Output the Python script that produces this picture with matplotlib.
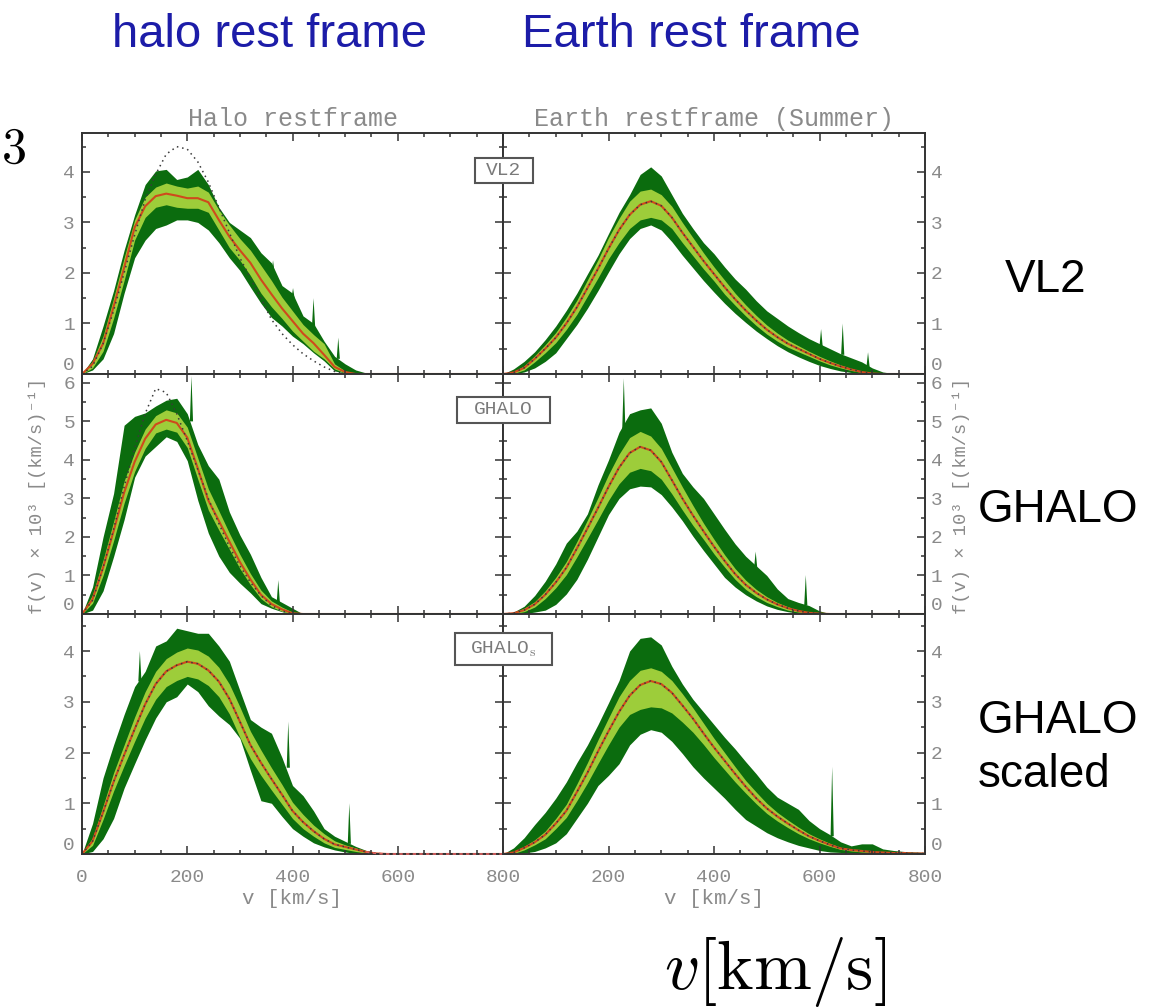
import numpy as np
import matplotlib
matplotlib.use("Agg")
import matplotlib.pyplot as plt
from matplotlib.ticker import MultipleLocator, FuncFormatter
from matplotlib.patches import Rectangle

# --- velocity grid [km/s] ---
vel = [0, 20, 40, 60, 80, 100, 120, 140, 160, 180,
       200, 220, 240, 260, 280, 300, 320, 340, 360, 380,
       400, 420, 440, 460, 480, 500, 520, 540, 560, 580,
       600, 620, 640, 660, 680, 700, 720, 740, 760, 780, 800]

# --- VL2, halo restframe ---
tl_med = [0, .2, .6, 1.33, 2.1, 2.9, 3.32, 3.52, 3.57, 3.53,
          3.48, 3.48, 3.4, 3.05, 2.72, 2.45, 2.2, 1.87, 1.58, 1.3,
          1.05, .8, .61, .38, .14, .04, 0, 0, 0, 0,
          0, 0, 0, 0, 0, 0, 0, 0, 0, 0, 0]
tl_lhi = [0, .25, .75, 1.5, 2.3, 3.05, 3.5, 3.7, 3.78, 3.72,
          3.68, 3.72, 3.6, 3.25, 2.95, 2.68, 2.45, 2.15, 1.85, 1.52,
          1.25, .98, .78, .6, .2, .06, 0, 0, 0, 0,
          0, 0, 0, 0, 0, 0, 0, 0, 0, 0, 0]
tl_llo = [0, .12, .45, 1.1, 1.85, 2.65, 3.1, 3.3, 3.35, 3.3,
          3.28, 3.28, 3.2, 2.85, 2.5, 2.25, 1.95, 1.6, 1.33, 1.1,
          .85, .65, .45, .3, .1, .02, 0, 0, 0, 0,
          0, 0, 0, 0, 0, 0, 0, 0, 0, 0, 0]
tl_dhi = [0, .3, .95, 1.65, 2.45, 3.15, 3.75, 4.02, 4.05, 3.85,
          3.9, 4.05, 3.75, 3.3, 3.0, 2.85, 2.7, 2.4, 2.2, 1.75,
          1.6, 1.15, 1.0, .65, .35, .2, .08, .02, 0, 0,
          0, 0, 0, 0, 0, 0, 0, 0, 0, 0, 0]
tl_dlo = [0, .08, .3, .8, 1.6, 2.3, 2.65, 2.88, 2.95, 3.05,
          3.05, 3.0, 2.85, 2.6, 2.3, 2.05, 1.72, 1.4, 1.12, .95,
          .75, .6, .42, .26, .06, .02, 0, 0, 0, 0,
          0, 0, 0, 0, 0, 0, 0, 0, 0, 0, 0]
tl_fit = [0, .15, .6, 1.25, 2.0, 2.75, 3.45, 3.95, 4.35, 4.5,
          4.45, 4.2, 3.8, 3.3, 2.8, 2.3, 1.9, 1.5, 1.08, .8,
          .58, .4, .26, .14, .05, 0, 0, 0, 0, 0,
          0, 0, 0, 0, 0, 0, 0, 0, 0, 0, 0]
tl_spikes = [(363, 2.0, 2.25), (401, 1.5, 1.7), (440, .95, 1.5), (487, .3, .72)]

# --- VL2, Earth restframe ---
tr_med = [0, .03, .12, .30, .50, .72, 1.0, 1.32, 1.70, 2.08,
          2.48, 2.85, 3.15, 3.35, 3.42, 3.33, 3.10, 2.80, 2.52, 2.24,
          1.98, 1.72, 1.48, 1.26, 1.06, .88, .73, .60, .50, .40,
          .30, .22, .15, .09, .04, .01, 0, 0, 0, 0, 0]
tr_lhi = [0, .05, .16, .36, .58, .82, 1.12, 1.46, 1.86, 2.26,
          2.70, 3.08, 3.42, 3.62, 3.66, 3.55, 3.32, 3.00, 2.70, 2.40,
          2.12, 1.86, 1.60, 1.37, 1.16, .97, .81, .67, .56, .45,
          .35, .26, .18, .11, .05, .02, 0, 0, 0, 0, 0]
tr_llo = [0, .01, .08, .24, .42, .62, .88, 1.18, 1.54, 1.90,
          2.28, 2.60, 2.88, 3.05, 3.10, 3.05, 2.88, 2.60, 2.34, 2.08,
          1.84, 1.58, 1.36, 1.15, .96, .79, .65, .53, .44, .35,
          .26, .18, .12, .07, .03, 0, 0, 0, 0, 0, 0]
tr_dhi = [0, .1, .25, .44, .68, .95, 1.26, 1.6, 1.98, 2.35,
          2.78, 3.2, 3.55, 3.95, 4.1, 3.92, 3.55, 3.18, 2.88, 2.6,
          2.38, 2.12, 1.88, 1.68, 1.45, 1.25, 1.1, .95, .82, .7,
          .6, .5, .4, .32, .24, .12, .04, .01, 0, 0, 0]
tr_dlo = [0, 0, .04, .12, .25, .42, .7, .98, 1.3, 1.65,
          2.02, 2.38, 2.68, 2.88, 2.95, 2.85, 2.62, 2.35, 2.1, 1.85,
          1.62, 1.4, 1.2, 1.02, .85, .7, .56, .44, .34, .25,
          .17, .11, .06, .03, .01, 0, 0, 0, 0, 0, 0]
tr_spikes = [(603, .55, .89), (644, .38, 1.0), (692, .14, .43)]

# --- GHALO, halo restframe ---
ml_med = [0, .38, 1.2, 2.15, 3.15, 3.95, 4.55, 4.92, 5.04, 4.96,
          4.58, 3.78, 2.95, 2.42, 1.88, 1.35, .9, .5, .26, .12,
          .02, 0, 0, 0, 0, 0, 0, 0, 0, 0,
          0, 0, 0, 0, 0, 0, 0, 0, 0, 0, 0]
ml_lhi = [0, .5, 1.4, 2.4, 3.45, 4.2, 4.8, 5.15, 5.3, 5.22,
          4.85, 4.05, 3.25, 2.68, 2.1, 1.55, 1.05, .62, .34, .18,
          .05, 0, 0, 0, 0, 0, 0, 0, 0, 0,
          0, 0, 0, 0, 0, 0, 0, 0, 0, 0, 0]
ml_llo = [0, .28, 1.0, 1.9, 2.88, 3.7, 4.3, 4.7, 4.8, 4.72,
          4.32, 3.5, 2.7, 2.18, 1.68, 1.18, .76, .4, .19, .07,
          0, 0, 0, 0, 0, 0, 0, 0, 0, 0,
          0, 0, 0, 0, 0, 0, 0, 0, 0, 0, 0]
ml_dhi = [0, .7, 2.0, 3.13, 4.9, 5.13, 5.22, 5.4, 5.55, 5.6,
          5.2, 4.4, 3.85, 3.5, 2.65, 2.05, 1.55, .95, .45, .3,
          .15, 0, 0, 0, 0, 0, 0, 0, 0, 0,
          0, 0, 0, 0, 0, 0, 0, 0, 0, 0, 0]
ml_dlo = [0, .1, .6, 1.49, 2.45, 3.55, 4.1, 4.35, 4.6, 4.48,
          3.98, 2.95, 2.1, 1.5, 1.08, .8, .55, .27, .15, .06,
          0, 0, 0, 0, 0, 0, 0, 0, 0, 0,
          0, 0, 0, 0, 0, 0, 0, 0, 0, 0, 0]
ml_fit = [0, .35, 1.2, 2.2, 3.3, 4.3, 5.2, 5.85, 5.75, 5.2,
          4.5, 3.75, 3.0, 2.35, 1.75, 1.25, .82, .48, .22, .08,
          0, 0, 0, 0, 0, 0, 0, 0, 0, 0,
          0, 0, 0, 0, 0, 0, 0, 0, 0, 0, 0]
ml_spikes = [(208, 5.0, 6.18), (373, .3, .88)]

# --- GHALO, Earth restframe ---
mr_med = [0, .02, .1, .25, .5, .82, 1.2, 1.7, 2.22, 2.75,
          3.3, 3.8, 4.18, 4.34, 4.25, 3.95, 3.48, 3.0, 2.56, 2.15,
          1.75, 1.38, 1.04, .76, .55, .38, .25, .15, .08, .03,
          .01, 0, 0, 0, 0, 0, 0, 0, 0, 0, 0]
mr_lhi = [0, .04, .15, .32, .6, .95, 1.36, 1.88, 2.44, 3.02,
          3.62, 4.15, 4.58, 4.74, 4.62, 4.3, 3.8, 3.3, 2.82, 2.36,
          1.94, 1.54, 1.18, .88, .64, .45, .3, .19, .1, .05,
          .02, 0, 0, 0, 0, 0, 0, 0, 0, 0, 0]
mr_llo = [0, .01, .06, .18, .4, .68, 1.02, 1.48, 1.96, 2.45,
          2.95, 3.38, 3.68, 3.78, 3.72, 3.5, 3.12, 2.7, 2.3, 1.94,
          1.56, 1.22, .9, .64, .45, .3, .19, .1, .05, .01,
          0, 0, 0, 0, 0, 0, 0, 0, 0, 0, 0]
mr_dhi = [0, .05, .2, .48, .85, 1.3, 1.84, 2.15, 2.6, 3.35,
          4.0, 4.72, 5.2, 5.3, 5.35, 4.95, 4.2, 3.65, 3.3, 3.0,
          2.6, 2.2, 1.82, 1.5, 1.25, 1.0, .65, .4, .3, .22,
          .08, .01, 0, 0, 0, 0, 0, 0, 0, 0, 0]
mr_dlo = [0, 0, .01, .05, .1, .25, .52, .9, 1.42, 2.0,
          2.58, 3.0, 3.25, 3.32, 3.3, 3.1, 2.78, 2.42, 2.02, 1.65,
          1.3, .95, .7, .5, .34, .21, .12, .06, .02, 0,
          0, 0, 0, 0, 0, 0, 0, 0, 0, 0, 0]
mr_spikes = [(229, 4.8, 6.12), (479, 1.2, 1.62), (574, .22, 1.01)]

# --- GHALO_s, halo restframe ---
bl_med = [0, .25, .82, 1.42, 1.95, 2.46, 2.95, 3.35, 3.6, 3.72,
          3.79, 3.75, 3.62, 3.4, 3.06, 2.61, 2.15, 1.8, 1.48, 1.17,
          .85, .63, .45, .3, .19, .14, .09, .04, .01, 0,
          0, 0, 0, 0, 0, 0, 0, 0, 0, 0, 0]
bl_lhi = [0, .32, .95, 1.6, 2.15, 2.7, 3.2, 3.6, 3.85, 3.98,
          4.06, 4.02, 3.9, 3.68, 3.35, 2.9, 2.42, 2.05, 1.7, 1.37,
          1.02, .78, .57, .4, .26, .18, .12, .06, .02, 0,
          0, 0, 0, 0, 0, 0, 0, 0, 0, 0, 0]
bl_llo = [0, .17, .68, 1.24, 1.74, 2.22, 2.68, 3.05, 3.3, 3.42,
          3.5, 3.45, 3.32, 3.1, 2.76, 2.3, 1.88, 1.55, 1.26, .98,
          .7, .5, .35, .22, .13, .09, .05, .02, 0, 0,
          0, 0, 0, 0, 0, 0, 0, 0, 0, 0, 0]
bl_dhi = [0, .6, 1.5, 2.15, 2.75, 3.3, 3.6, 4.1, 4.2, 4.45,
          4.4, 4.35, 4.35, 4.1, 3.8, 3.22, 2.65, 2.5, 2.38, 1.9,
          1.35, 1.15, .85, .5, .35, .25, .15, .07, .02, 0,
          0, 0, 0, 0, 0, 0, 0, 0, 0, 0, 0]
bl_dlo = [0, .05, .3, .7, 1.3, 1.78, 2.25, 2.68, 3.0, 3.1,
          3.35, 3.2, 2.92, 2.72, 2.55, 2.28, 1.65, 1.05, 1.0, .74,
          .5, .35, .22, .14, .08, .04, .01, 0, 0, 0,
          0, 0, 0, 0, 0, 0, 0, 0, 0, 0, 0]
bl_spikes = [(110, 3.4, 4.0), (392, 1.7, 2.61), (508, .2, 1.0)]

# --- GHALO_s, Earth restframe ---
br_med = [0, .03, .12, .23, .38, .6, .85, 1.22, 1.6, 2.02,
          2.42, 2.8, 3.12, 3.33, 3.41, 3.35, 3.18, 2.93, 2.67, 2.38,
          2.1, 1.84, 1.58, 1.33, 1.1, .9, .74, .6, .47, .35,
          .26, .18, .11, .08, .06, .04, .03, .02, .02, .01, .01]
br_lhi = [0, .05, .15, .28, .45, .7, .98, 1.38, 1.8, 2.25,
          2.68, 3.1, 3.42, 3.62, 3.67, 3.6, 3.42, 3.16, 2.88, 2.58,
          2.28, 2.0, 1.72, 1.45, 1.22, 1.0, .82, .67, .53, .4,
          .3, .21, .13, .1, .07, .05, .04, .03, .02, .02, .01]
br_llo = [0, .01, .08, .18, .3, .5, .72, 1.05, 1.4, 1.78,
          2.15, 2.5, 2.75, 2.85, 2.9, 2.88, 2.78, 2.6, 2.4, 2.16,
          1.9, 1.66, 1.42, 1.2, .99, .8, .65, .52, .4, .3,
          .22, .15, .09, .06, .04, .03, .02, .01, .01, 0, 0]
br_dhi = [0, .12, .32, .58, .82, 1.1, 1.42, 1.8, 2.15, 2.55,
          2.98, 3.42, 4.0, 4.25, 4.28, 4.12, 3.7, 3.35, 3.05, 2.8,
          2.55, 2.3, 2.07, 1.82, 1.58, 1.32, 1.12, 1.0, .88, .66,
          .5, .38, .24, .16, .2, .2, .1, .07, .05, .04, .03]
br_dlo = [0, 0, .02, .05, .12, .22, .4, .7, 1.0, 1.35,
          1.55, 1.78, 2.15, 2.36, 2.45, 2.4, 2.22, 1.98, 1.72, 1.5,
          1.3, 1.1, .88, .68, .55, .42, .32, .24, .17, .12,
          .07, .04, .03, .02, .01, .01, 0, 0, 0, 0, 0]
br_spikes = [(624, .35, 1.72)]

ytops = [4.77, 6.23, 4.73]
yticks = [[0, 1, 2, 3, 4], [0, 1, 2, 3, 4, 5, 6], [0, 1, 2, 3, 4]]
xticks = [0, 200, 400, 600, 800]
col_titles = ["Halo restframe", "Earth restframe (Summer)"]
box_labels = ["VL2", "GHALO", "GHALO$_\\mathrm{s}$"]
side_labels = ["VL2", "GHALO", "GHALO\nscaled"]

DARK = "#0b6c0e"
LIGHT = "#9dcd3a"
RED = "#cf4a1c"
FRAME = "#333333"
GREY = "#8a8a8a"
BLUE = "#1c1ca8"

plt.rcParams["font.family"] = ["Liberation Mono", "DejaVu Sans Mono"]
plt.rcParams["mathtext.fontset"] = "cm"

W, H = 1170, 1007
fig = plt.figure(figsize=(W / 100, H / 100), dpi=100)


def pix_axes(x0, y0, x1, y1):
    return fig.add_axes([x0 / W, 1 - y1 / H, (x1 - x0) / W, (y1 - y0) / H])


def draw(ax, dlo, dhi, llo, lhi, med, spikes, fit=None):
    ax.fill_between(vel, dlo, dhi, color=DARK, lw=0, zorder=1)
    for v0, base, peak in spikes:
        ax.fill([v0 - 3, v0, v0 + 3], [base, peak, base], color=DARK, lw=0, zorder=1.1)
    ax.fill_between(vel, llo, lhi, color=LIGHT, lw=0, zorder=1.2)
    ax.plot(vel, med, color=RED, lw=1.5, zorder=1.5)
    ax.plot(vel, med if fit is None else fit, color="#3a3a3a", lw=1.1,
            ls=(0, (1, 2.5)), zorder=1.6)


panels = [
    [(tl_dlo, tl_dhi, tl_llo, tl_lhi, tl_med, tl_spikes, tl_fit),
     (tr_dlo, tr_dhi, tr_llo, tr_lhi, tr_med, tr_spikes, None)],
    [(ml_dlo, ml_dhi, ml_llo, ml_lhi, ml_med, ml_spikes, ml_fit),
     (mr_dlo, mr_dhi, mr_llo, mr_lhi, mr_med, mr_spikes, None)],
    [(bl_dlo, bl_dhi, bl_llo, bl_lhi, bl_med, bl_spikes, None),
     (br_dlo, br_dhi, br_llo, br_lhi, br_med, br_spikes, None)],
]

xcols = [(82, 503), (503, 925)]
yrows = [(133, 374), (374, 614), (614, 854)]

for r in range(3):
    for c in range(2):
        ax = pix_axes(xcols[c][0], yrows[r][0], xcols[c][1], yrows[r][1])
        draw(ax, *panels[r][c])
        ax.set_xlim(0, 800)
        ax.set_ylim(0, ytops[r])
        ax.set_xticks(xticks)
        ax.set_yticks(yticks[r])
        ax.xaxis.set_minor_locator(MultipleLocator(50))
        ax.yaxis.set_minor_locator(MultipleLocator(0.5))
        for s in ax.spines.values():
            s.set_color(FRAME)
            s.set_linewidth(1.4)
        ax.tick_params(which="both", direction="in", top=True, bottom=True,
                       left=True, right=True, color=FRAME, width=1.1,
                       labelcolor=GREY, labelsize=14)
        ax.tick_params(which="major", length=6)
        ax.tick_params(which="minor", length=3)
        ax.tick_params(axis="x", pad=11, labelbottom=(r == 2))
        if c == 0:
            ax.tick_params(axis="y", pad=5, labelleft=True, labelright=False)
        else:
            ax.tick_params(axis="y", pad=4, labelleft=False, labelright=True)
            ax.xaxis.set_major_formatter(
                FuncFormatter(lambda x, p: "" if x == 0 else f"{x:.0f}"))
        # zero labels sit just above the baseline
        zero_tick = ax.yaxis.get_major_ticks()[0]
        zero_tick.label1.set_va("bottom")
        zero_tick.label2.set_va("bottom")
        if r == 0:
            ax.set_title(col_titles[c], fontsize=18, color=GREY, pad=5)
        if r == 2:
            ax.set_xlabel("v [km/s]", fontsize=15, color=GREY, labelpad=2)
            if c == 0:
                # model tail along zero beyond the last particles
                ax.plot(vel[27:], bl_med[27:], color="#e06060", lw=1.2,
                        ls=(0, (2, 2)), zorder=3, clip_on=False)

# label boxes straddling the two columns
boxes = [(475, 158, 533, 183), (457, 397, 550, 423), (455, 633, 552, 665)]
for (x0, y0, x1, y1), lab in zip(boxes, box_labels):
    fig.add_artist(Rectangle((x0 / W, 1 - y1 / H), (x1 - x0) / W, (y1 - y0) / H,
                             transform=fig.transFigure, facecolor="white",
                             edgecolor="#555555", lw=1.5, zorder=5))
    fig.text((x0 + x1) / 2 / W, 1 - (y0 + y1) / 2 / H, lab, fontsize=14,
             color="#7a7a7a", ha="center", va="center", zorder=6)

ylab = "f(v) × 10³ [(km/s)⁻¹]"
fig.text(37 / W, 1 - 496 / H, ylab, rotation=90, fontsize=13.5, color=GREY,
         ha="center", va="center")
fig.text(961 / W, 1 - 496 / H, ylab, rotation=90, fontsize=13.5, color=GREY,
         ha="center", va="center")

# headline labels
fig.text(270 / W, 1 - 35 / H, "halo rest frame", fontsize=34, color=BLUE,
         family="Liberation Sans", ha="center", va="center")
fig.text(691 / W, 1 - 35 / H, "Earth rest frame", fontsize=34, color=BLUE,
         family="Liberation Sans", ha="center", va="center")

side_y = [280, 510, 748]
for y, lab in zip(side_y, side_labels):
    x = 1005 if lab == "VL2" else 978
    fig.text(x / W, 1 - y / H, lab, fontsize=33, color="black",
             family="Liberation Sans", ha="left", va="center", linespacing=1.3)

fig.text(1 / W, 1 - 150 / H, "$3$", fontsize=36, color="black",
         ha="left", va="center")
fig.text(775 / W, 1 - 972 / H, r"$v[\mathrm{km/s}]$", fontsize=50,
         color="black", ha="center", va="center")

fig.savefig("out.png", dpi=100)
